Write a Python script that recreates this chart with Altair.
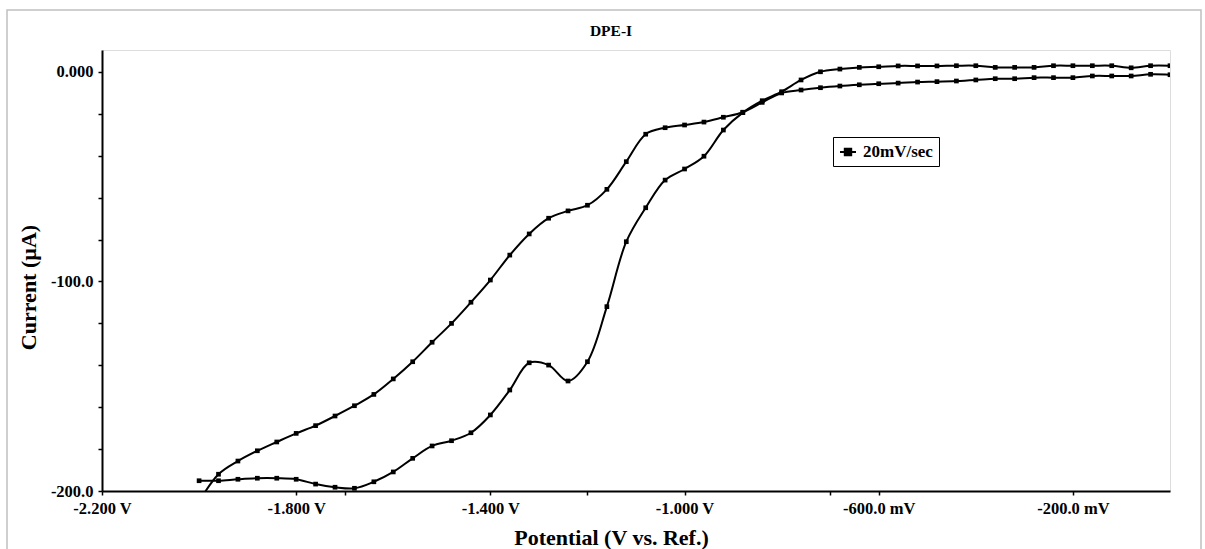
import altair as alt
import pandas as pd

# ---- data (potential in V, current in µA) ----
potential = [-2.00, -1.96, -1.92, -1.88, -1.84, -1.80, -1.76, -1.72, -1.68, -1.64,
             -1.60, -1.56, -1.52, -1.48, -1.44, -1.40, -1.36, -1.32, -1.28, -1.24,
             -1.20, -1.16, -1.12, -1.08, -1.04, -1.00, -0.96, -0.92, -0.88, -0.84,
             -0.80, -0.76, -0.72, -0.68, -0.64, -0.60, -0.56, -0.52, -0.48, -0.44,
             -0.40, -0.36, -0.32, -0.28, -0.24, -0.20, -0.16, -0.12, -0.08, -0.04, 0.00]

current_lower = [-195.1, -195.1, -194.4, -193.9, -193.9, -194.4, -196.7, -198.2, -198.7, -195.6,
                 -190.9, -184.4, -178.5, -176.0, -172.2, -163.7, -151.8, -138.8, -139.9, -147.5,
                 -138.3, -112.0, -81.0, -64.8, -51.6, -46.3, -40.2, -27.7, -19.4, -13.7,
                 -9.4, -3.8, 0.1, 1.4, 2.2, 2.5, 2.9, 2.9, 2.9, 3.0,
                 3.0, 2.2, 2.2, 2.2, 3.0, 3.0, 3.0, 3.0, 2.0, 3.0, 3.0]

current_upper = [-205.0, -192.0, -185.7, -180.8, -176.6, -172.5, -168.8, -164.2, -159.3, -153.9,
                 -146.5, -138.3, -129.0, -120.0, -109.9, -99.3, -87.4, -77.3, -69.8, -66.3,
                 -63.6, -56.0, -42.8, -29.7, -26.6, -25.3, -23.9, -21.6, -19.2, -14.5,
                 -10.0, -8.6, -7.5, -6.7, -6.1, -5.6, -5.3, -4.8, -4.6, -4.3,
                 -3.8, -3.2, -3.2, -2.7, -2.7, -2.7, -1.9, -1.9, -1.9, -1.1, -1.3]

legend_label = "20mV/sec"

x_tick_values = [-2.2, -1.8, -1.4, -1.0, -0.6, -0.2, -1.7, -1.2, -0.7]
x_tick_labels = ["-2.200 V", "-1.800 V", "-1.400 V", "-1.000 V", "-600.0 mV", "-200.0 mV", "", "", ""]
y_tick_values = [0, -20, -40, -60, -80, -100, -120, -140, -160, -180, -200]
y_tick_labels = ["0.000", "", "", "", "", "-100.0", "", "", "", "", "-200.0"]

rows = []
for v, c in zip(potential, current_lower):
    rows.append({"E": v, "I": c, "series": "a", "scan": legend_label})
for v, c in zip(potential, current_upper):
    rows.append({"E": v, "I": c, "series": "b", "scan": legend_label})
df = pd.DataFrame(rows)


def label_expr(values, labels):
    expr = "''"
    for v, l in reversed(list(zip(values, labels))):
        expr = f"datum.value == {v} ? '{l}' : ({expr})"
    return expr


FONT = "Liberation Serif"
W, H = 1068, 441
PAD_L, PAD_T = 102, 50

x_enc = alt.X(
    "E:Q",
    scale=alt.Scale(domain=[-2.2, 0.0], nice=False, zero=False),
    axis=alt.Axis(
        values=x_tick_values,
        labelExpr=label_expr(x_tick_values, x_tick_labels),
        title="Potential (V vs. Ref.)",
        titleFont=FONT, titleFontSize=22, titleFontWeight="bold", titleColor="black",
        titleX=509, titleY=46, titleAlign="center", titleBaseline="middle",
        labelFont=FONT, labelFontSize=16.5, labelFontWeight="bold", labelColor="black",
        labelFlush=False, labelOverlap=False, labelPadding=5,
        tickSize=4, tickWidth=1.5, tickColor="black",
        domainColor="black", domainWidth=2, grid=False,
    ),
)
y_enc = alt.Y(
    "I:Q",
    scale=alt.Scale(domain=[-200, 10.5], nice=False, zero=False),
    axis=alt.Axis(
        values=y_tick_values,
        labelExpr=label_expr(y_tick_values, y_tick_labels),
        title="Current (µA)",
        titleFont=FONT, titleFontSize=22, titleFontWeight="bold", titleColor="black",
        titleX=-74, titleY=237, titleAngle=270, titleAlign="center", titleBaseline="middle",
        labelFont=FONT, labelFontSize=16.5, labelFontWeight="bold", labelColor="black",
        labelOverlap=False, labelPadding=5, labelBaseline="middle",
        tickSize=4, tickWidth=1.5, tickColor="black",
        domainColor="black", domainWidth=2, grid=False,
    ),
)

legend_symbol = "M-1,0H1M-0.4,-0.4H0.4V0.4H-0.4Z"

color_enc = alt.Color(
    "scan:N",
    scale=alt.Scale(domain=[legend_label], range=["black"]),
    legend=alt.Legend(
        orient="none", legendX=731, legendY=87, title=None,
        strokeColor="black", fillColor="white", padding=6,
        symbolType=legend_symbol, symbolSize=256, symbolStrokeWidth=2,
        symbolFillColor="black", symbolStrokeColor="black",
        labelFont=FONT, labelFontSize=17, labelFontWeight="bold", labelColor="black",
        labelOffset=6,
    ),
)

base = alt.Chart(df)
lines = base.mark_line(interpolate="catmull-rom", strokeWidth=2, clip=True).encode(
    x=x_enc, y=y_enc, detail="series:N", color=color_enc
)
points = base.mark_point(shape="square", size=22, filled=True, opacity=1, clip=True).encode(
    x="E:Q", y="I:Q",
    color=alt.Color("scan:N", scale=alt.Scale(domain=[legend_label], range=["black"]), legend=None),
)

frame = alt.Chart(pd.DataFrame({"k": [0]})).mark_rect(
    fill="white", fillOpacity=0, stroke="#c0c0c0", strokeWidth=1.5
).encode(x=alt.value(-95), x2=alt.value(1099), y=alt.value(-40), y2=alt.value(515))

chart = alt.layer(frame, lines, points).properties(
    width=W,
    height=H,
    title=alt.TitleParams(
        text="DPE-I", font=FONT, fontSize=15.5, fontWeight="bold", color="black",
        anchor="middle", frame="group", dx=-25, offset=0, dy=42, baseline="alphabetic",
    ),
    autosize=alt.AutoSizeParams(type="none"),
    padding={"left": PAD_L, "top": PAD_T, "right": 1205 - PAD_L - W, "bottom": 549 - PAD_T - H},
).configure_view(stroke=None).configure(background="white")

chart.save("out.html", embed_options={"renderer": "svg", "actions": False})
